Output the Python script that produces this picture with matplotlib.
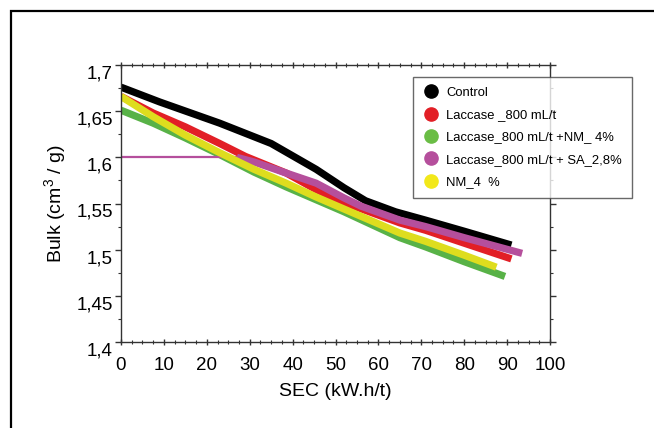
import matplotlib
matplotlib.use('Agg')
import matplotlib.pyplot as plt
from matplotlib.lines import Line2D
from matplotlib.patches import Rectangle
from matplotlib.ticker import MultipleLocator, FixedLocator, FixedFormatter
from matplotlib.transforms import ScaledTranslation

plt.rcParams['font.family'] = ['Liberation Sans', 'DejaVu Sans']
plt.rcParams['mathtext.default'] = 'regular'

# data
control_x = [0, 9, 23, 35, 45.5, 52, 57, 64, 71, 80, 91]
control_y = [1.676, 1.660, 1.637, 1.615, 1.587, 1.567, 1.553, 1.541, 1.532, 1.520, 1.505]

lac_x = [0, 7.5, 15, 23, 29, 38.5, 45.5, 52, 65, 71, 80, 91]
lac_y = [1.666, 1.648, 1.633, 1.615, 1.601, 1.583, 1.565, 1.551, 1.529, 1.521, 1.507, 1.490]

lac_nm_x = [0, 7.5, 15, 23, 31, 38.5, 45.5, 52, 65, 71, 80, 89.5]
lac_nm_y = [1.651, 1.637, 1.621, 1.603, 1.584, 1.568, 1.554, 1.541, 1.513, 1.503, 1.487, 1.471]

lac_sa_flat_x = [0, 28]
lac_sa_flat_y = [1.6, 1.6]
lac_sa_x = [27, 31, 38.5, 45.5, 52, 56, 65, 71, 80, 93.5]
lac_sa_y = [1.600, 1.595, 1.583, 1.572, 1.556, 1.547, 1.532, 1.525, 1.513, 1.496]

nm_x = [0, 7.5, 15, 23, 31, 38.5, 45.5, 52, 65, 71, 80, 87.5]
nm_y = [1.666, 1.644, 1.624, 1.605, 1.587, 1.572, 1.557, 1.544, 1.518, 1.509, 1.494, 1.481]

labels = ['Control', 'Laccase _800 mL/t', 'Laccase_800 mL/t +NM_ 4%',
          'Laccase_800 mL/t + SA_2,8%', 'NM_4  %']
colors = ['#000000', '#e21f26', '#58b247', '#b54f9c', '#dedd1e']
legend_colors = ['#000000', '#e21f26', '#6abd45', '#b54f9c', '#f2e81a']

y_ticks = [1.4, 1.45, 1.5, 1.55, 1.6, 1.65, 1.7]
y_tick_labels = ['1,4', '1,45', '1,5', '1,55', '1,6', '1,65', '1,7']

fig = plt.figure(figsize=(6.54, 4.28), dpi=100)
ax = fig.add_axes([121 / 654, 1 - 342 / 428, 429 / 654, 277 / 428])

lw = 5.2
ax.plot(control_x, control_y, color=colors[0], lw=lw, solid_capstyle='butt')
ax.plot(lac_x, lac_y, color=colors[1], lw=lw, solid_capstyle='butt')
ax.plot(lac_nm_x, lac_nm_y, color=colors[2], lw=lw, solid_capstyle='butt')
ax.plot(lac_sa_flat_x, lac_sa_flat_y, color=colors[3], lw=1.6)
ax.plot(lac_sa_x, lac_sa_y, color=colors[3], lw=lw, solid_capstyle='butt')
ax.plot(nm_x, nm_y, color=colors[4], lw=lw, solid_capstyle='butt')

ax.set_xlim(0, 100)
ax.set_ylim(1.4, 1.7)
ax.xaxis.set_major_locator(MultipleLocator(10))
ax.xaxis.set_minor_locator(MultipleLocator(2.5))
ax.yaxis.set_major_locator(FixedLocator(y_ticks))
ax.yaxis.set_major_formatter(FixedFormatter(y_tick_labels))
ax.yaxis.set_minor_locator(MultipleLocator(0.025))

for sp in ax.spines.values():
    sp.set_color('#333333')
    sp.set_linewidth(1.0)

ax.tick_params(axis='x', which='both', direction='inout', top=True, bottom=True,
               color='#333333', labelsize=13.5, pad=8)
ax.tick_params(axis='x', which='major', length=5, width=1)
ax.tick_params(axis='x', which='minor', length=3, width=0.8)
ax.tick_params(axis='y', which='both', direction='out', left=True, right=True,
               color='#333333', labelsize=13.5, pad=2)
ax.tick_params(axis='y', which='major', length=4, width=1)
ax.tick_params(axis='y', which='minor', length=2.5, width=0.8)

# the y labels sit a little below their ticks in the original
for lab in ax.get_yticklabels():
    lab.set_transform(lab.get_transform() + ScaledTranslation(0, -5 / 72, fig.dpi_scale_trans))

ax.set_xlabel('SEC (kW.h/t)', fontsize=14, labelpad=7)
ax.set_ylabel('Bulk (cm$^3$ / g)', fontsize=14, labelpad=6)

handles = [Line2D([], [], ls='none', marker='o', markersize=9.5, color=c) for c in legend_colors]
leg = fig.legend(handles, labels, loc='upper left',
                 bbox_to_anchor=(413 / 654, 1 - 77 / 428), bbox_transform=fig.transFigure,
                 borderaxespad=0, fontsize=9.4, frameon=True, fancybox=False,
                 edgecolor='#444444', labelspacing=0.78, handletextpad=0.6,
                 handlelength=1.2, borderpad=0.75)
leg.get_frame().set_linewidth(1.0)
leg.set_zorder(5)

# outer frame, only left and top edges fall inside the image
fig.patches.append(Rectangle((11 / 654, -0.5), 2, 1.5 - 11 / 428, transform=fig.transFigure,
                             fill=False, lw=1.6, edgecolor='black'))

plt.savefig('out.png', dpi=100)
